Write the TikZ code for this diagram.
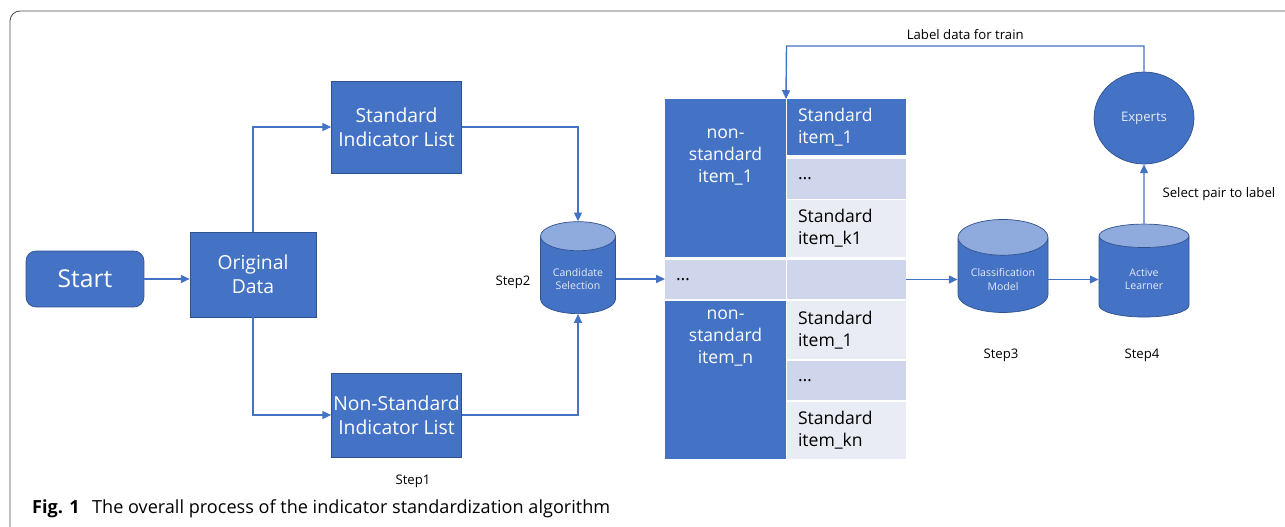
\documentclass[tikz,border=0pt]{standalone}
\usepackage{fontspec}
\setmainfont{Open Sans}
\usetikzlibrary{arrows.meta, shapes.geometric, positioning}

\definecolor{office}{HTML}{4472C4}
\definecolor{officedark}{HTML}{2F528F}
\definecolor{officelight}{HTML}{8FAADC}
\definecolor{rowmid}{HTML}{CFD5EA}
\definecolor{rowlight}{HTML}{E9EBF5}

\begin{document}
\begin{tikzpicture}[x=0.02cm, y=-0.02cm, >={Triangle[length=5pt, width=4.5pt]},
    flow/.style = {draw=office, line width=0.8pt},
    box/.style = {draw=officedark, line width=0.4pt, fill=office, text=white, align=center, inner xsep=1pt, font=\fontsize{11}{13.5}\selectfont},
    db/.style = {cylinder, shape border rotate=90, aspect=0.47, draw=officedark, line width=0.4pt,
        cylinder uses custom fill, cylinder body fill=office, cylinder end fill=officelight,
        text=white!85!office, align=center, font=\fontsize{6}{7.5}\selectfont},
    cell/.style = {inner sep=0pt, outer sep=0pt, minimum width=2.38cm},
    itemcell/.style = {cell, inner xsep=0.22cm, text width=1.94cm, align=left, font=\fontsize{10}{12.5}\selectfont},
    dark/.style = {fill=office, text=white},
    mid/.style = {fill=rowmid},
    light/.style = {fill=rowlight},
    note/.style = {font=\fontsize{7.5}{9}\selectfont}]

    \useasboundingbox (0,0) rectangle (1285,527);
    \clip (0,0) rectangle (1285,527);
    \draw[rounded corners=0.2cm, black!70, line width=0.5pt] (10,11) rectangle (1320,560);

    % left part
    \node[box, rounded corners=0.2cm, minimum width=2.36cm, minimum height=1.12cm, font=\fontsize{14}{16}\selectfont] (start) at (85,279) {Start};
    \node[box, minimum width=2.52cm, minimum height=1.7cm] (orig) at (253,274.5) {Original\\Data};
    \node[box, minimum width=2.6cm, minimum height=1.84cm] (std) at (396.5,127) {Standard\\Indicator List};
    \node[box, minimum width=2.6cm, minimum height=1.68cm] (nstd) at (396.5,415) {Non-Standard\\Indicator List};
    \node[db, minimum width=1.5cm, minimum height=1.84cm] (cand) at (578,279) {Candidate\\Selection};
    \node[note] (step1) at (413,481) {Step1};
    \node[note] (step2) at (513,282) {Step2};

    % pair table
    \node[cell, dark, minimum width=2.42cm, minimum height=3.16cm] (n1) at (725.5,178) {};
    \node[text=white, align=center, font=\fontsize{10}{12.5}\selectfont] (n1txt) at (725.5,157) {non-\\standard\\item\_1};
    \node[itemcell, dark, minimum height=1.12cm] (s1) at (846.5,127) {Standard\\item\_1};
    \node[itemcell, mid, minimum height=0.8cm] (d1) at (846.5,179) {\dots};
    \node[itemcell, light, minimum height=1.14cm] (k1) at (846.5,228.5) {Standard\\item\_k1};
    \node[cell, mid, minimum width=2.42cm, minimum height=0.78cm, inner xsep=0.22cm, text width=1.98cm, align=left] (m1) at (725.5,279.5) {\dots};
    \node[cell, mid, minimum height=0.78cm] (m2) at (846.5,279.5) {};
    \node[cell, dark, minimum width=2.42cm, minimum height=3.16cm] (nn) at (725.5,380) {};
    \node[text=white, align=center, font=\fontsize{10}{12.5}\selectfont] (nntxt) at (725.5,338) {non-\\standard\\item\_n};
    \node[itemcell, light, minimum height=1.16cm] (s2) at (846.5,330) {Standard\\item\_1};
    \node[itemcell, mid, minimum height=0.78cm] (d2) at (846.5,380.5) {\dots};
    \node[itemcell, light, minimum height=1.14cm] (kn) at (846.5,430.5) {Standard\\item\_kn};

    % right part
    \node[db, minimum width=1.8cm, minimum height=1.86cm] (class) at (1003,279.5) {Classification\\Model};
    \node[db, minimum width=1.8cm, minimum height=1.86cm] (active) at (1144,279.5) {Active\\Learner};
    \node[ellipse, draw=officedark, line width=0.4pt, fill=office, text=white!85!office, minimum width=2cm, minimum height=1.84cm, font=\fontsize{7.5}{9}\selectfont] (experts) at (1144,118) {Experts};
    \node[note] (step3) at (1001,355) {Step3};
    \node[note] (step4) at (1142,355) {Step4};
    \coordinate (fb) at (786.5,46);

    \draw[flow, ->] (start.east) -- (start.east -| orig.west);
    \draw[flow, ->] (orig.north) |- (std.west);
    \draw[flow, ->] (orig.south) |- (nstd.west);
    \draw[flow, ->] (std.east) -| (cand.north);
    \draw[flow, ->] (nstd.east) -| (cand.south);
    \draw[flow, ->] (cand.east) -- (cand.east -| m1.west);
    \draw[flow, ->] (m2.east) -- (m2.east -| class.west);
    \draw[flow, ->] (class.east) -- (class.east -| active.west);
    \draw[flow, ->] (active.north) -- node[note, right, xshift=0.24cm] (sel) {Select pair to label} (experts.south);
    \draw[flow, ->] (experts.north) |- node[note, pos=0.75, above] (lab) {Label data for train} (fb) -- (n1.north east);

    \node[anchor=base west, font=\fontsize{10.3}{12}\selectfont] (caption) at (26,513) {\textbf{Fig. 1}\hspace{0.25cm}The overall process of the indicator standardization algorithm};
\end{tikzpicture}
\end{document}
